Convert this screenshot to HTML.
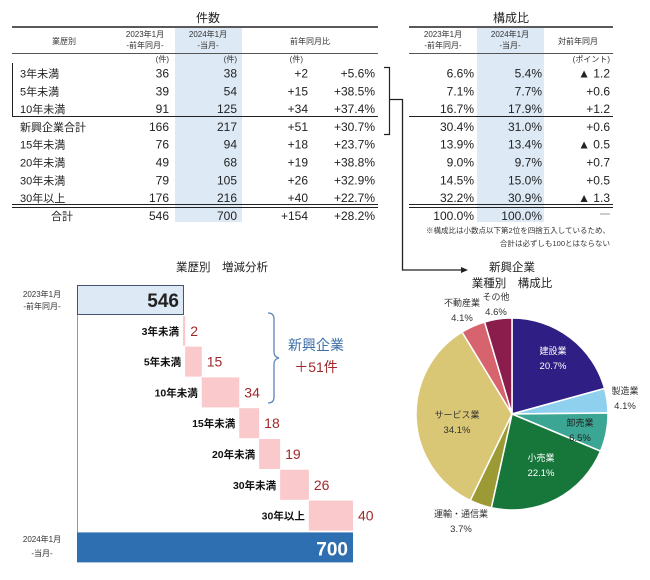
<!DOCTYPE html>
<html><head><meta charset="utf-8">
<style>
html,body{margin:0;padding:0;background:#fff;}
svg{display:block;font-family:"Liberation Sans","Noto Sans CJK JP",sans-serif;}
</style></head>
<body>
<svg id="root" width="650" height="580" viewBox="0 0 650 580" xmlns="http://www.w3.org/2000/svg">
 <g>
  <rect x="175" y="28" width="67" height="194" fill="#ddeaf6"/>
  <text x="208" y="22" font-size="12" text-anchor="middle" fill="#222">件数</text>
  <line x1="12" y1="27" x2="378" y2="27" stroke="#222" stroke-width="1.5"/>
  <line x1="12" y1="53.5" x2="378" y2="53.5" stroke="#555" stroke-width="1"/>
  <g font-size="8" fill="#333" text-anchor="middle">
   <text x="64" y="44">業歴別</text>
   <text x="145" y="37">2023年1月</text>
   <text x="145" y="48">-前年同月-</text>
   <text x="208" y="37">2024年1月</text>
   <text x="208" y="48">-当月-</text>
   <text x="310" y="44">前年同月比</text>
  </g>
  <g font-size="8" fill="#333" text-anchor="end">
   <text x="169" y="62">(件)</text><text x="237" y="62">(件)</text><text x="303" y="62">(件)</text>
  </g>
  <g id="lrows" font-size="12" fill="#222"></g>
  <line x1="12.5" y1="63" x2="12.5" y2="116" stroke="#222"/>
  <line x1="12" y1="116.5" x2="378" y2="116.5" stroke="#222"/>
  <line x1="12" y1="204.5" x2="378" y2="204.5" stroke="#222"/>
  <line x1="12" y1="207.5" x2="378" y2="207.5" stroke="#222"/>
 </g>
 <path d="M384 67.5 H389.5 V134.5 H384" fill="none" stroke="#222" stroke-width="1.2"/>
 <path d="M389 99.5 H402.5 V270 H462" fill="none" stroke="#222" stroke-width="1.3"/>
 <polygon points="468,270 461,267 461,273" fill="#222"/>
 <g>
  <rect x="477" y="28" width="67" height="194" fill="#ddeaf6"/>
  <text x="511" y="22" font-size="12" text-anchor="middle" fill="#222">構成比</text>
  <line x1="409" y1="27" x2="613" y2="27" stroke="#222" stroke-width="1.5"/>
  <line x1="409" y1="53.5" x2="613" y2="53.5" stroke="#555"/>
  <g font-size="8" fill="#333" text-anchor="middle">
   <text x="443" y="37">2023年1月</text><text x="443" y="48">-前年同月-</text>
   <text x="510" y="37">2024年1月</text><text x="510" y="48">-当月-</text>
   <text x="578" y="44">対前年同月</text>
  </g>
  <text x="610" y="62" font-size="8" fill="#333" text-anchor="end">(ポイント)</text>
  <g id="rrows" font-size="12" fill="#222"></g>
  <line x1="409" y1="116.5" x2="613" y2="116.5" stroke="#222"/>
  <line x1="409" y1="204.5" x2="613" y2="204.5" stroke="#222"/>
  <line x1="409" y1="207.5" x2="613" y2="207.5" stroke="#222"/>
  <line x1="600" y1="214" x2="610" y2="214" stroke="#999"/>
  <text x="610" y="233" font-size="7.5" fill="#333" text-anchor="end">※構成比は小数点以下第2位を四捨五入しているため、</text>
  <text x="610" y="246" font-size="7.5" fill="#333" text-anchor="end">合計は必ずしも100とはならない</text>
 </g>
 <g id="wf">
  <text x="222" y="271" font-size="11.5" text-anchor="middle" fill="#222">業歴別　増減分析</text>
  <line x1="77.5" y1="285" x2="77.5" y2="561" stroke="#8a9bb0" stroke-width="1"/>
  <g font-size="8" fill="#333" text-anchor="middle">
   <text x="42" y="297">2023年1月</text><text x="42" y="309">-前年同月-</text>
   <text x="42" y="542">2024年1月</text><text x="42" y="556">-当月-</text>
  </g>
  <path d="M268 313 Q274 313 274 319 V352 Q274 357 279 358 Q274 359 274 364 V397 Q274 403 268 403" fill="none" stroke="#5b86b8" stroke-width="1.3"/>
  <text x="316" y="350" font-size="14" fill="#3f70a8" text-anchor="middle">新興企業</text>
  <text x="316" y="372" font-size="14" fill="#a0282b" text-anchor="middle">＋51件</text>
 </g>
 <g id="pie">
  <text x="512" y="271" font-size="11.5" text-anchor="middle" fill="#222">新興企業</text>
  <text x="512" y="287" font-size="11.5" text-anchor="middle" fill="#222">業種別　構成比</text>
 </g>
</svg>
<script>
const NS="http://www.w3.org/2000/svg";
const rowLabels=["3年未満","5年未満","10年未満","新興企業合計","15年未満","20年未満","30年未満","30年以上","合計"];
const count2023=["36","39","91","166","76","49","79","176","546"];
const count2024=["38","54","125","217","94","68","105","216","700"];
const diffCount=["+2","+15","+34","+51","+18","+19","+26","+40","+154"];
const diffPct=["+5.6%","+38.5%","+37.4%","+30.7%","+23.7%","+38.8%","+32.9%","+22.7%","+28.2%"];
const share2023=["6.6%","7.1%","16.7%","30.4%","13.9%","9.0%","14.5%","32.2%","100.0%"];
const share2024=["5.4%","7.7%","17.9%","31.0%","13.4%","9.7%","15.0%","30.9%","100.0%"];
const sharePt=["▲ 1.2","+0.6","+1.2","+0.6","▲ 0.5","+0.7","+0.5","▲ 1.3",""];
const wfStart=546, wfEnd=700;
const wfCats=["3年未満","5年未満","10年未満","15年未満","20年未満","30年未満","30年以上"];
const wfInc=[2,15,34,18,19,26,40];
const pieCats=["建設業","製造業","卸売業","小売業","運輸・通信業","サービス業","不動産業","その他"];
const pieVals=[20.7,4.1,6.5,22.1,3.7,34.1,4.1,4.6];
const pieColors=["#2f1f84","#8fd0ee","#3aa693","#17773a","#9c9a34","#d9c775","#d6636e","#8b1d4c"];

function t(parent,x,y,s,attrs){const e=document.createElementNS(NS,"text");e.setAttribute("x",x);e.setAttribute("y",y);e.textContent=s;for(const k in attrs)e.setAttribute(k,attrs[k]);parent.appendChild(e);return e;}

const lr=document.getElementById("lrows"), rr=document.getElementById("rrows");
rowLabels.forEach((lab,i)=>{
  const y=77.5+i*17.8;
  const lx=i===8?62:20, la=i===8?"middle":"start";
  const e=t(lr,lx,y,lab,{"text-anchor":la,"font-size":"11"});
  
  
  t(lr,169,y,count2023[i],{"text-anchor":"end"});
  t(lr,237,y,count2024[i],{"text-anchor":"end"});
  t(lr,308,y,diffCount[i],{"text-anchor":"end"});
  t(lr,375,y,diffPct[i],{"text-anchor":"end"});
  t(rr,474,y,share2023[i],{"text-anchor":"end"});
  t(rr,542,y,share2024[i],{"text-anchor":"end"});
  if(sharePt[i]) t(rr,610,y,sharePt[i],{"text-anchor":"end"});
});

const wf=document.getElementById("wf");
const xs=v=>77+(v-450)*1.104;
const rowY=i=>285+i*30.8, rowH=30;
let r=document.createElementNS(NS,"rect");
r.setAttribute("x",77.5);r.setAttribute("y",rowY(0)+0.5);r.setAttribute("width",xs(wfStart)-77);r.setAttribute("height",rowH-1);
r.setAttribute("fill","#dde9f5");r.setAttribute("stroke","#44546a");


wf.appendChild(r);
t(wf,xs(wfStart)-4,rowY(0)+22,String(wfStart),{"text-anchor":"end","font-size":"19","font-weight":"bold","fill":"#222"});
let cum=wfStart;
wfCats.forEach((c,i)=>{
  const y=rowY(i+1);
  const b=document.createElementNS(NS,"rect");
  b.setAttribute("x",xs(cum));b.setAttribute("y",y);b.setAttribute("width",Math.max(1,xs(cum+wfInc[i])-xs(cum)));b.setAttribute("height",rowH);
  b.setAttribute("fill","#f9c9cb");
  
  
  wf.appendChild(b);
  t(wf,xs(cum)-4,y+19,c,{"text-anchor":"end","font-size":"10.5","font-weight":"bold","fill":"#111"});
  cum+=wfInc[i];
  t(wf,xs(cum)+5,y+20,String(wfInc[i]),{"font-size":"14","fill":"#a0282b"});
});
const yE=rowY(wfCats.length+1)+1;
r=document.createElementNS(NS,"rect");
r.setAttribute("x",77);r.setAttribute("y",yE);r.setAttribute("width",xs(wfEnd)-77);r.setAttribute("height",rowH);
r.setAttribute("fill","#2e6fb2");


wf.appendChild(r);
t(wf,xs(wfEnd)-5,yE+23,String(wfEnd),{"text-anchor":"end","font-size":"19","font-weight":"bold","fill":"#fff"});

const pie=document.getElementById("pie");
const cx=512, cy=414, R=96;
const total=pieVals.reduce((a,b)=>a+b,0);
let a0=-Math.PI/2;
const labelPos=[[553,354,"#fff"],[625,394,"#333"],[580,426,"#222"],[541,461,"#fff"],[461,517,"#333"],[457,418,"#333"],[462,306,"#333"],[496,300,"#333"]];
pieVals.forEach((v,i)=>{
  const a1=a0+v/total*2*Math.PI;
  const x0=cx+R*Math.cos(a0),y0=cy+R*Math.sin(a0),x1=cx+R*Math.cos(a1),y1=cy+R*Math.sin(a1);
  const p=document.createElementNS(NS,"path");
  p.setAttribute("d",`M${cx},${cy} L${x0},${y0} A${R},${R} 0 ${a1-a0>Math.PI?1:0} 1 ${x1},${y1} Z`);
  p.setAttribute("fill",pieColors[i]);p.setAttribute("stroke","#fff");p.setAttribute("stroke-width","1.5");
  
  
  pie.appendChild(p);
  a0=a1;
});
pieVals.forEach((v,i)=>{
  const [lx,ly,col]=labelPos[i];
  const e=t(pie,lx,ly,pieCats[i],{"text-anchor":"middle","font-size":"9","fill":col});
  
  
  t(pie,lx,ly+15,v.toFixed(1)+"%",{"text-anchor":"middle","font-size":"9.5","fill":col});
});
</script>
</body></html>
